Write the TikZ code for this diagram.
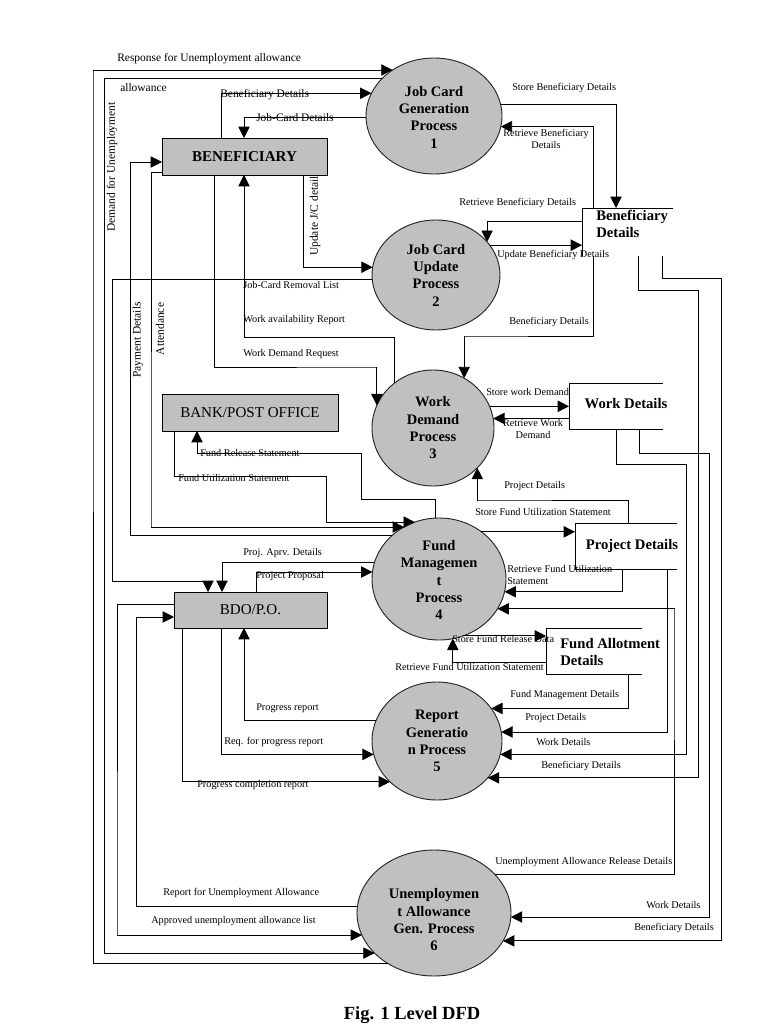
\documentclass[tikz,border=0pt]{standalone}
\usepackage{fontspec}
\setmainfont{Liberation Serif}
\usetikzlibrary{shapes.geometric,arrows.meta,calc}
\definecolor{pgray}{RGB}{192,192,192}
\begin{document}
\begin{tikzpicture}[x=0.75pt,y=-0.75pt,
  proc/.style={ellipse,draw=black!85,fill=pgray,line width=0.7pt,inner sep=0pt,outer sep=0pt},
  ptext/.style={font=\fontsize{10.9}{13}\selectfont\bfseries,align=center,inner sep=0pt},
  ent/.style={rectangle,draw,fill=pgray,line width=0.7pt,inner sep=0pt,outer sep=0pt,font=\fontsize{11.3}{13}\selectfont},
  dstore/.style={rectangle,inner sep=0pt,outer sep=0pt},
  stext/.style={font=\fontsize{11}{13.2}\selectfont\bfseries,inner sep=0pt,align=left},
  flow/.style={line width=0.7pt},
  arr/.style={flow,-{Triangle[length=8.5pt,width=8.5pt]}},
  lbl/.style={font=\fontsize{7.7}{9}\selectfont,inner sep=0pt},
  lblb/.style={font=\fontsize{8.6}{10}\selectfont,inner sep=0pt},
]
\useasboundingbox (0,0) rectangle (768,1024);
\fill[white] (0,0) rectangle (768,1024);

% processes
\node[proc,minimum width=136*0.75pt,minimum height=116*0.75pt] (p1) at (434,116) {};
\node[proc,minimum width=128*0.75pt,minimum height=110*0.75pt] (p2) at (436,275) {};
\node[proc,minimum width=122*0.75pt,minimum height=116*0.75pt] (p3) at (433,428) {};
\node[proc,minimum width=134*0.75pt,minimum height=122*0.75pt] (p4) at (439,579) {};
\node[proc,minimum width=130*0.75pt,minimum height=118*0.75pt] (p5) at (437,741) {};
\node[proc,minimum width=154*0.75pt,minimum height=126*0.75pt] (p6) at (434,913) {};
\node[ptext] (t1) at ($(p1)+(0,1)$) {Job Card\\Generation\\Process\\1};
\node[ptext] (t2) at ($(p2)+(0,0)$) {Job Card\\Update\\Process\\2};
\node[ptext] (t3) at ($(p3)+(0,0)$) {Work\\Demand\\Process\\3};
\node[ptext] (t4) at ($(p4)+(0,1)$) {Fund\\Managemen\\t\\Process\\4};
\node[ptext] (t5) at ($(p5)+(0,0)$) {Report\\Generatio\\n Process\\5};
\node[ptext] (t6) at ($(p6)+(0,7)$) {Unemploymen\\t Allowance\\Gen. Process\\6};

% external entities
\node[ent,minimum width=165*0.75pt,minimum height=37*0.75pt,font=\fontsize{11.3}{13}\selectfont\bfseries] (ben) at (244.5,156.5) {BENEFICIARY};
\node[ent,minimum width=176*0.75pt,minimum height=37*0.75pt] (bank) at (250,412.5) {BANK/POST OFFICE};
\node[ent,minimum width=153*0.75pt,minimum height=36*0.75pt] (bdo) at (250.5,610) {BDO/P.O.};

% data stores
\node[dstore,minimum width=91*0.75pt,minimum height=48*0.75pt] (sBen) at (627.5,232) {};
\draw[flow] (sBen.north east) -- (sBen.north west) -- (sBen.south west);
\node[stext,anchor=west] (sBenT) at (596,224) {Beneficiary\\Details};
\node[dstore,minimum width=94*0.75pt,minimum height=46*0.75pt] (sWork) at (616,406) {};
\draw[flow] (sWork.north east) -- (sWork.north west) -- (sWork.south west) -- (sWork.south east);
\node[stext] (sWorkT) at (626,404) {Work Details};
\node[dstore,minimum width=102*0.75pt,minimum height=46*0.75pt] (sProj) at (626,546) {};
\draw[flow] (sProj.north east) -- (sProj.north west) -- (sProj.south west) -- (sProj.south east);
\node[stext] (sProjT) at (632,546) {Project Details};
\node[dstore,minimum width=96*0.75pt,minimum height=46*0.75pt] (sFund) at (594,651) {};
\draw[flow] (sFund.north east) -- (sFund.north west) -- (sFund.south west) -- (sFund.south east);
\node[stext,anchor=west] (sFundT) at (560,652) {Fund Allotment\\Details};

% connectors around process 1
\draw[arr] (p6.228) -| (93,70) |- (p1.132);
\draw[flow] (p1.144) -| (104,953);
\draw[arr] (104,953) |- (p6.214);
\draw[arr] ($(ben.north west)+(59,0)$) |- (p1.160);
\draw[arr] (p1.181) -| ($(ben.north west)+(82,0)$);
\draw[arr] (p1.10) -| ($(sBen.north west)+(34,0)$);
\draw[arr] ($(sBen.north west)+(11,0)$) |- (p1.351);
% process 2
\draw[arr] ($(sBen.north west)+(0,13)$) -| (p2.33);
\draw[arr] (p2.29) -- (p2.29 -| sBen.west);
\draw[arr] ($(ben.south west)+(141,0)$) |- (p2.173);
\draw[arr] (p2.184) -| (112,581) -| ($(bdo.north west)+(34,0)$);
% process 3
\draw[arr] (p3.130) |- (244,337) -| ($(ben.south west)+(82,0)$);
\draw[arr] ($(ben.south west)+(52,0)$) |- (377,367) -| (p3.158);
\draw[arr] ($(sBen.south west)+(11,0)$) |- (464,336) -| (p3.58);
\draw[arr] (p3.21) -- (p3.21 -| sWork.west);
\draw[arr] (sWork.west |- p3.9) -- (p3.9);
\draw[arr] ($(sProj.north west)+(53,0)$) |- (477,500) -| (p3.318);
% process 4
\draw[arr] (p4.93) |- (361,499) |- (197,453) -| ($(bank.south west)+(35,0)$);
\draw[arr] ($(bank.south west)+(12,0)$) |- (326,476) |- (p4.113);
\draw[arr] ($(ben.south west)+(0,-3)$) -| (151,527) |- (p4.124);
\draw[arr] (p4.137) -| (130,162) -- ($(ben.north west)+(0,24)$);
\draw[arr] (p4.166) -| ($(bdo.north west)+(48,0)$);
\draw[arr] ($(bdo.north west)+(82,0)$) |- (p4.174);
\draw[arr] (p4.48) -- (p4.48 -| sProj.west);
\draw[arr] ($(sProj.south west)+(47,0)$) |- (p4.349);
\draw[arr] (p6.32) -| (674,609) |- (p4.333);
\draw[arr] (p4.293) -- (p4.293 -| sFund.west);
\draw[arr] ($(sFund.south west)+(0,-12)$) -| (p4.283);
% process 5
\draw[arr] ($(sFund.south west)+(82,0)$) |- (p5.31);
\draw[arr] ($(sProj.south west)+(92,0)$) |- (p5.8);
\draw[arr] ($(sWork.south west)+(47,0)$) |- (686,464) |- (p5.348);
\draw[arr] ($(sBen.south west)+(56,0)$) |- (698,290) |- (p5.324);
\draw[arr] (p5.161) -| ($(bdo.south west)+(70,0)$);
\draw[arr] ($(bdo.south west)+(47,0)$) |- (p5.192);
\draw[arr] ($(bdo.south west)+(8,0)$) |- (p5.221);
% process 6
\draw[arr] ($(sWork.south west)+(70,0)$) |- (709,453) |- (p6.357);
\draw[arr] ($(sBen.south west)+(80,0)$) |- (721,278) |- (p6.338);
\draw[arr] (p6.175) -| (136,617) -- ($(bdo.south west)+(0,-11)$);
\draw[arr] ($(bdo.south west)+(0,-24)$) -| (117,935) |- (p6.197);

% labels
\node[lblb,anchor=west] (L1) at (117,59) {Response for Unemployment allowance};
\node[lblb,anchor=west] (L2) at (120,88) {allowance};
\node[lblb,rotate=90] (L3) at (112,167) {Demand for Unemployment};
\node[lblb,anchor=west] (L4) at (220,95) {Beneficiary Details};
\node[lblb,anchor=west] (L5) at (256,118) {Job-Card Details};
\node[lbl,anchor=west] (L6) at (512,88) {Store Beneficiary Details};
\node[lbl,align=center] (L7) at (546,139) {Retrieve Beneficiary\\Details};
\node[lbl,anchor=west] (L8) at (459,203) {Retrieve Beneficiary Details};
\node[lbl,anchor=west] (L9) at (497,255) {Update Beneficiary Details};
\node[lblb,rotate=90] (L10) at (315,216) {Update J/C detail};
\node[lbl,anchor=west] (L11) at (243,285) {Job-Card Removal List};
\node[lbl,anchor=west] (L12) at (243,320) {Work availability Report};
\node[lbl,anchor=west] (L13) at (243,354) {Work Demand Request};
\node[lbl,anchor=west] (L14) at (509,322) {Beneficiary Details};
\node[lblb,rotate=90] (L15) at (138,340) {Payment Details};
\node[lblb,rotate=90] (L16) at (160,329) {Attendance};
\node[lbl,anchor=west] (L17) at (486,392) {Store work Demand};
\node[lbl,align=center] (L18) at (533,429) {Retrieve Work\\Demand};
\node[lbl,anchor=west] (L19) at (200,453) {Fund Release Statement};
\node[lbl,anchor=west] (L20) at (178,478) {Fund Utilization Statement};
\node[lbl,anchor=west] (L21) at (504,486) {Project Details};
\node[lbl,anchor=west] (L22) at (475,512) {Store Fund Utilization Statement};
\node[lbl,anchor=west,align=left] (L23) at (507,575) {Retrieve Fund Utilization\\Statement};
\node[lbl,anchor=west] (L24) at (243,553) {Proj. Aprv. Details};
\node[lbl,anchor=west] (L25) at (256,576) {Project Proposal};
\node[lbl,anchor=west] (L26) at (452,639) {Store Fund Release Data};
\node[lbl,anchor=west] (L27) at (395,667) {Retrieve Fund Utilization Statement};
\node[lbl,anchor=west] (L28) at (510,695) {Fund Management Details};
\node[lbl,anchor=west] (L29) at (256,708) {Progress report};
\node[lbl,anchor=west] (L30) at (525,718) {Project Details};
\node[lbl,anchor=west] (L31) at (224,742) {Req. for progress report};
\node[lbl,anchor=west] (L32) at (536,742) {Work Details};
\node[lbl,anchor=west] (L33) at (541,766) {Beneficiary Details};
\node[lbl,anchor=west] (L34) at (197,785) {Progress completion report};
\node[lbl,anchor=west] (L35) at (495,862) {Unemployment Allowance Release Details};
\node[lbl,anchor=west] (L36) at (163,893) {Report for Unemployment Allowance};
\node[lbl,anchor=west] (L37) at (646,905) {Work Details};
\node[lbl,anchor=west] (L38) at (151,921) {Approved unemployment allowance list};
\node[lbl,anchor=west] (L39) at (634,928) {Beneficiary Details};

\node[font=\fontsize{13.9}{16}\selectfont\bfseries,anchor=base,inner sep=0pt] (cap) at (412,1019) {Fig. 1 Level DFD};
\end{tikzpicture}
\end{document}
